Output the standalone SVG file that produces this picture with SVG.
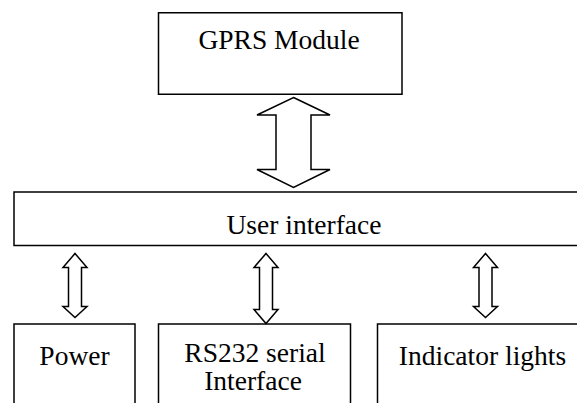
<svg xmlns="http://www.w3.org/2000/svg" width="577" height="403" viewBox="0 0 577 403">
<style>
.box{fill:#fff;stroke:#000;stroke-width:1.5}
.arr{fill:#fff;stroke:#000;stroke-width:1.5;stroke-linejoin:miter}
text{font-family:'Liberation Serif','Times New Roman',Tinos,'DejaVu Serif',serif;font-size:27.5px;fill:#000;text-anchor:middle}
</style>
<rect x="0" y="0" width="577" height="403" fill="#fff"/>
<g id="gprs">
<rect class="box" x="158.5" y="12.75" width="243.5" height="81.5"/>
<text x="279" y="49">GPRS Module</text>
</g>
<g id="user-interface">
<rect class="box" x="14" y="192" width="620" height="53.5"/>
<text x="304" y="233.5">User interface</text>
</g>
<g id="power">
<rect class="box" x="14" y="324" width="121" height="100"/>
<text x="74.5" y="365">Power</text>
</g>
<g id="rs232">
<rect class="box" x="158.5" y="324" width="192" height="100"/>
<text x="255" y="361.7">RS232 serial</text>
<text x="253" y="390">Interface</text>
</g>
<g id="indicator">
<rect class="box" x="377.5" y="324" width="260" height="100"/>
<text x="482.5" y="365">Indicator lights</text>
</g>
<g id="connectors">
<polygon class="arr" points="293.5,97.5 330,115 311,115 311,169.5 330,169.5 293.5,187.5 257,169.5 276,169.5 276,115 257,115"/>
<polygon class="arr" points="75,253.5 87,267.5 81.5,267.5 81.5,306.5 87,306.5 75,317.5 63,306.5 68.5,306.5 68.5,267.5 63,267.5"/>
<polygon class="arr" points="266,253.5 278,267.5 272.5,267.5 272.5,309.5 278,309.5 266,323.5 254,309.5 259.5,309.5 259.5,267.5 254,267.5"/>
<polygon class="arr" points="485.5,253.5 497.5,267.5 492,267.5 492,306.5 497.5,306.5 485.5,317.5 473.5,306.5 479,306.5 479,267.5 473.5,267.5"/>
</g>
</svg>
